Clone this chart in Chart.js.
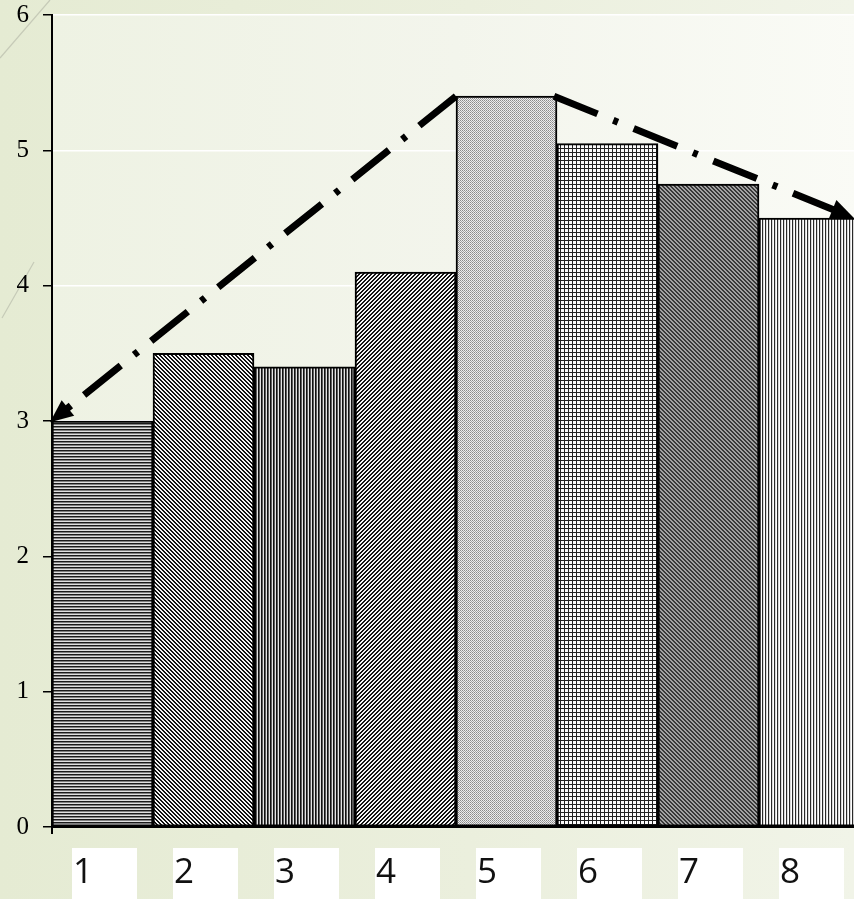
<!DOCTYPE html>
<html>
<head>
<meta charset="utf-8">
<script src="https://cdn.jsdelivr.net/npm/chart.js@4/dist/chart.umd.min.js"></script>
<style>
  html, body { margin: 0; padding: 0; overflow: hidden; }
  body {
    width: 854px; height: 899px;
    background: linear-gradient(90deg, #e5ebd3 0%, #ebefdd 55%, #f1f4e8 100%);
  }
  #wrap { position: absolute; left: 0; top: 0; width: 860px; height: 899px; }
</style>
</head>
<body>
<div id="wrap"><canvas id="c" width="860" height="899"></canvas></div>
<script>
// Categories and bar heights
const categories = ['1', '2', '3', '4', '5', '6', '7', '8'];
const values = [3.0, 3.5, 3.4, 4.1, 5.4, 5.05, 4.75, 4.5];
const yTicks = [0, 1, 2, 3, 4, 5, 6];

// Trend arrows (x in category units, y in value units); the arrowhead sits at the last point
const riseArrow = [{ x: 3.5, y: 5.4 }, { x: -0.52, y: 2.99 }];
const fallArrow = [{ x: 4.47, y: 5.4 }, { x: 7.44, y: 4.5 }];

// Small hatch tiles used as bar fills
function tile(w, h, painter) {
  const c = document.createElement('canvas');
  c.width = w; c.height = h;
  const g = c.getContext('2d');
  painter(g, w, h);
  return g.createPattern(c, 'repeat');
}
function px(g, x, y, col) { g.fillStyle = col; g.fillRect(x, y, 1, 1); }

const hatchFills = [
  // horizontal stripes
  tile(1, 3, g => { px(g,0,0,'#1a1a1a'); px(g,0,1,'#808080'); px(g,0,2,'#e0e0e0'); }),
  // falling diagonal
  tile(4, 4, g => { for (let y=0;y<4;y++) for (let x=0;x<4;x++) px(g,x,y, ((x - y + 8) % 4) < 2 ? '#111' : '#f4f4f4'); }),
  // dense vertical stripes
  tile(3, 1, g => { px(g,0,0,'#111'); px(g,1,0,'#5e5e5e'); px(g,2,0,'#e4e4e4'); }),
  // rising diagonal
  tile(4, 4, g => { for (let y=0;y<4;y++) for (let x=0;x<4;x++) px(g,x,y, ((x + y) % 4) < 2 ? '#111' : '#f4f4f4'); }),
  // fine light dots
  tile(4, 4, g => { for (let y=0;y<4;y++) for (let x=0;x<4;x++) px(g,x,y, ((x + y) % 2 === 0) ? (y % 2 === 0 ? '#8a8a8a' : '#a4a4a4') : '#ececec'); }),
  // square grid
  tile(4, 4, g => { g.fillStyle = '#fbfbfb'; g.fillRect(0,0,4,4); g.fillStyle = '#222'; g.fillRect(0,0,4,1); g.fillRect(0,0,1,4); }),
  // dark diagonal weave
  tile(4, 4, g => { for (let y=0;y<4;y++) for (let x=0;x<4;x++) px(g,x,y, ((x - y + 8) % 4) < 2 ? '#383838' : '#a2a2a2'); }),
  // light vertical stripes
  tile(3, 1, g => { px(g,0,0,'#2a2a2a'); px(g,1,0,'#d8d8d8'); px(g,2,0,'#ffffff'); })
];

// Soft plot-area wash and slide decoration lines
const backdropPlugin = {
  id: 'backdrop',
  beforeDraw(chart) {
    const { ctx, chartArea: a } = chart;
    ctx.save();
    const gr = ctx.createLinearGradient(a.left, 0, a.right, 0);
    gr.addColorStop(0, '#eef2e3');
    gr.addColorStop(0.5, '#f3f5ec');
    gr.addColorStop(1, '#fafbf6');
    ctx.fillStyle = gr;
    ctx.fillRect(a.left, a.top, a.right - a.left, a.bottom - a.top);
    ctx.strokeStyle = 'rgba(190,194,176,0.8)';
    ctx.lineWidth = 1.2;
    ctx.beginPath();
    ctx.moveTo(0, 58); ctx.lineTo(50, 0);
    ctx.moveTo(2, 318); ctx.lineTo(34, 262);
    ctx.stroke();
    ctx.restore();
  }
};

// Arrowheads at the last point of each line dataset
function arrowGeom(meta) {
  const pts = meta.data;
  const p = pts[pts.length - 1], q = pts[pts.length - 2];
  const dx = p.x - q.x, dy = p.y - q.y;
  const len = Math.hypot(dx, dy);
  return { tip: { x: p.x, y: p.y }, ux: dx / len, uy: dy / len };
}
const HEAD_LEN = 23, HEAD_HALF = 10;
const arrowPlugin = {
  id: 'arrows',
  beforeDatasetDraw(chart, args) {
    if (args.meta.type !== 'line') return;
    const { ctx } = chart;
    const { tip, ux, uy } = arrowGeom(args.meta);
    const bx = tip.x - ux * HEAD_LEN * 0.6, by = tip.y - uy * HEAD_LEN * 0.6;
    const nx = -uy, ny = ux, R = 3000;
    ctx.save();
    ctx.beginPath();
    ctx.moveTo(bx + nx * R, by + ny * R);
    ctx.lineTo(bx + nx * R - ux * R, by + ny * R - uy * R);
    ctx.lineTo(bx - nx * R - ux * R, by - ny * R - uy * R);
    ctx.lineTo(bx - nx * R, by - ny * R);
    ctx.closePath();
    ctx.clip();
  },
  afterDatasetDraw(chart, args) {
    if (args.meta.type !== 'line') return;
    const { ctx } = chart;
    ctx.restore();
    const { tip, ux, uy } = arrowGeom(args.meta);
    const bx = tip.x - ux * HEAD_LEN, by = tip.y - uy * HEAD_LEN;
    const nx = -uy, ny = ux;
    ctx.save();
    ctx.fillStyle = '#000';
    ctx.beginPath();
    ctx.moveTo(tip.x, tip.y);
    ctx.lineTo(bx + nx * HEAD_HALF, by + ny * HEAD_HALF);
    ctx.lineTo(bx - nx * HEAD_HALF, by - ny * HEAD_HALF);
    ctx.closePath();
    ctx.fill();
    ctx.restore();
  }
};

// Category labels in white boxes under the axis
const boxLabelPlugin = {
  id: 'boxLabels',
  afterDraw(chart) {
    const { ctx } = chart;
    const xs = chart.scales.x;
    const a = chart.chartArea;
    ctx.save();
    // short stub of the value axis below the origin
    ctx.strokeStyle = '#000';
    ctx.lineWidth = 2;
    ctx.beginPath();
    ctx.moveTo(a.left, a.bottom); ctx.lineTo(a.left, a.bottom + 7);
    ctx.stroke();
    ctx.font = '35px "Open Sans", "DejaVu Sans", sans-serif';
    ctx.textAlign = 'left';
    ctx.textBaseline = 'alphabetic';
    categories.forEach((lab, i) => {
      const cx = xs.getPixelForValue(i);
      const left = Math.round(cx - 31);
      ctx.fillStyle = '#ffffff';
      ctx.fillRect(left, a.bottom + 21, 65, 60);
      ctx.fillStyle = '#111';
      ctx.fillText(lab, left + 1, a.bottom + 56);
    });
    ctx.restore();
  }
};

const lineStyle = {
  type: 'line',
  xAxisID: 'xl',
  yAxisID: 'y',
  borderColor: '#000',
  borderWidth: 7,
  borderDash: [47, 17, 5, 17],
  borderCapStyle: 'butt',
  pointRadius: 0,
  fill: false,
  tension: 0,
  clip: false,
  order: 0
};

new Chart(document.getElementById('c'), {
  type: 'bar',
  data: {
    labels: categories,
    datasets: [
      {
        data: values,
        xAxisID: 'x',
        yAxisID: 'y',
        backgroundColor: hatchFills,
        borderColor: '#000',
        borderWidth: 2,
        borderSkipped: false,
        grouped: false,
        barPercentage: 1,
        categoryPercentage: 1,
        order: 1
      },
      Object.assign({ data: riseArrow }, lineStyle),
      Object.assign({ data: fallArrow }, lineStyle)
    ]
  },
  options: {
    responsive: false,
    animation: false,
    events: [],
    layout: { padding: { top: 15, right: 0, bottom: 0, left: 0 } },
    plugins: { legend: { display: false }, tooltip: { enabled: false } },
    scales: {
      x: {
        type: 'category',
        offset: true,
        grid: { display: false },
        border: { display: true, color: '#000', width: 2 },
        ticks: { display: false },
        afterFit(s) { s.height = 72; s.paddingLeft = 0; s.paddingRight = 0; }
      },
      xl: {
        type: 'linear',
        display: false,
        offset: false,
        min: -0.5,
        max: 7.5
      },
      y: {
        min: yTicks[0],
        max: yTicks[yTicks.length - 1],
        afterBuildTicks(s) { s.ticks = yTicks.map(v => ({ value: v })); },
        grid: {
          color: '#ffffff',
          lineWidth: 1.5,
          drawTicks: true,
          tickColor: '#000',
          tickLength: 9,
          tickWidth: 1.5
        },
        border: { display: true, color: '#000', width: 2 },
        ticks: {
          padding: 14,
          color: '#000',
          font: { family: '"Liberation Serif", "Times New Roman", serif', size: 25 }
        },
        afterFit(s) { s.width = 52; s.paddingTop = 0; s.paddingBottom = 0; }
      }
    }
  },
  plugins: [backdropPlugin, arrowPlugin, boxLabelPlugin]
});
</script>
</body>
</html>
